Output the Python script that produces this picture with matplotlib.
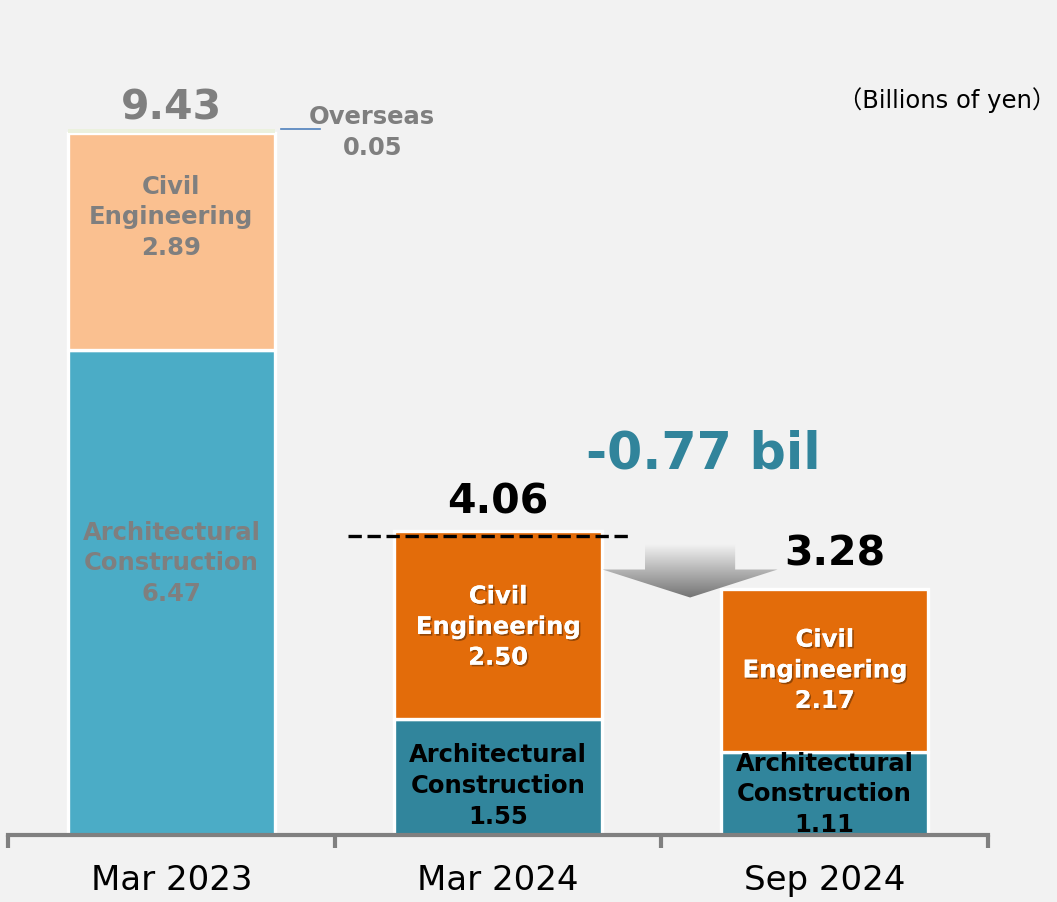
import numpy as np
import matplotlib
matplotlib.use("Agg")
import matplotlib.pyplot as plt
from matplotlib.patches import Polygon
import matplotlib.patheffects as pe

plt.rcParams["font.family"] = ["DejaVu Sans", "Noto Sans CJK JP"]

categories = ["Mar 2023", "Mar 2024", "Sep 2024"]
architectural = [6.47, 1.55, 1.11]
civil = [2.89, 2.50, 2.17]
overseas = [0.05, 0.0, 0.0]
totals = [9.43, 4.06, 3.28]
change_label = "-0.77 bil"
unit_label = "（Billions of yen）"

arch_colors = ["#4bacc6", "#31859c", "#31859c"]
civil_colors = ["#fac090", "#e36c0a", "#e36c0a"]
overseas_color = "#ebf1de"
bg = "#f2f2f2"

W, H = 1057, 903
fig = plt.figure(figsize=(W / 100, H / 100), dpi=100, facecolor=bg)
ax = fig.add_axes([8 / W, (H - 836) / H, 980 / W, 836 / H], facecolor=bg)
ymax = 836 / 75.0
ax.set_xlim(-0.5, 2.5)
ax.set_ylim(0, ymax)

x = np.arange(len(categories))
bw = 0.635
ax.bar(x, architectural, bw, color=arch_colors, edgecolor="white", linewidth=2.4, zorder=2)
ax.bar(x, civil, bw, bottom=architectural, color=civil_colors, edgecolor="white", linewidth=2.4, zorder=2)
bot2 = np.array(architectural) + np.array(civil)
ax.bar(x[:1], overseas[:1], bw, bottom=bot2[:1], color=overseas_color, edgecolor="none", zorder=3)

for s in ["top", "left", "right"]:
    ax.spines[s].set_visible(False)
ax.spines["bottom"].set_color("#808080")
ax.spines["bottom"].set_linewidth(3)
ax.set_yticks([])
ax.set_xticks(x)
ax.set_xticklabels(categories, fontsize=24.5, color="black")
ax.tick_params(axis="x", which="major", length=0, pad=20)
ax.set_xticks([-0.5, 0.5, 1.5, 2.5], minor=True)
ax.tick_params(axis="x", which="minor", length=9, width=3, color="#808080", direction="out")

px = 1 / 75.0  # data units per pixel (vertical)
fs = 17.5
ls = 1.35
shadow = [pe.withSimplePatchShadow(offset=(1.2, -1.2), shadow_rgbFace="black", alpha=0.35), pe.Normal()]

# Mar 2023 labels (grey)
grey = "#7f7f7f"
ax.text(x[0], architectural[0] + civil[0] / 2 + 25 * px, f"Civil\nEngineering\n{civil[0]:.2f}",
        ha="center", va="center", fontsize=fs, fontweight="bold", color=grey, linespacing=ls, zorder=4)
ax.text(x[0], architectural[0] / 2 + 30 * px, f"Architectural\nConstruction\n{architectural[0]:.2f}",
        ha="center", va="center", fontsize=fs, fontweight="bold", color=grey, linespacing=ls, zorder=4)
ax.text(x[0], totals[0] + 20 * px, f"{totals[0]:.2f}", ha="center", va="center",
        fontsize=29.5, fontweight="bold", color=grey)
# Overseas callout
ytop = bot2[0] + overseas[0]
ax.plot([x[0] + 0.335, x[0] + 0.455], [ytop, ytop], color="#4f81bd", lw=1.2, zorder=4)
ax.text(x[0] + 0.615, ytop - 2 * px, f"Overseas\n{overseas[0]:.2f}", ha="center", va="center",
        fontsize=fs, fontweight="bold", color=grey, linespacing=ls)

# 2024 labels
for i in (1, 2):
    ax.text(x[i], architectural[i] + civil[i] / 2 + (-2 if i == 1 else 0) * px,
            f"Civil\nEngineering\n{civil[i]:.2f}", ha="center", va="center", fontsize=fs,
            fontweight="bold", color="white", linespacing=ls, zorder=4, path_effects=shadow)
    yoff = 8 if i == 1 else 0
    ax.text(x[i], architectural[i] / 2 - yoff * px,
            f"Architectural\nConstruction\n{architectural[i]:.2f}", ha="center", va="center",
            fontsize=fs, fontweight="bold", color="black", linespacing=ls, zorder=4)
    ax.text(x[i] + (0 if i == 1 else 0.03), totals[i] + (29 if i == 1 else 35) * px, f"{totals[i]:.2f}",
            ha="center", va="center", fontsize=29.5, fontweight="bold", color="black", zorder=4)

# dashed reference line at Mar 2024 total
ax.plot([x[1] - 0.46, x[1] + 0.405], [totals[1] - 5 * px, totals[1] - 5 * px], color="black",
        lw=2.4, ls=(0, (4, 1.7)), zorder=5)

# change label
ax.text(1.628, totals[1] + 77 * px, change_label, ha="center", va="center",
        fontsize=36.5, fontweight="bold", color="#31849b")

# gradient arrow
cx = 1.588
y_top = totals[1] - 14 * px
y_neck = totals[1] - 39 * px
y_tip = totals[1] - 67 * px
sw, hw = 0.138, 0.268
verts = [(cx - sw, y_top), (cx + sw, y_top), (cx + sw, y_neck), (cx + hw, y_neck),
         (cx, y_tip), (cx - hw, y_neck), (cx - sw, y_neck)]
poly = Polygon(verts, closed=True, facecolor="none", edgecolor="none", zorder=3)
ax.add_patch(poly)
grad = np.linspace(0.95, 0.45, 256).reshape(-1, 1)
im = ax.imshow(grad, extent=[cx - hw, cx + hw, y_tip, y_top], origin="upper", cmap="gray",
               vmin=0, vmax=1, aspect="auto", zorder=3)
im.set_clip_path(poly)
ax.set_xlim(-0.5, 2.5)
ax.set_ylim(0, ymax)

fig.text(1.0 - 1 / W, (H - 100) / H, unit_label, ha="right", va="center", fontsize=17.5,
         color="black")

fig.savefig("out.png", dpi=100, facecolor=bg)
